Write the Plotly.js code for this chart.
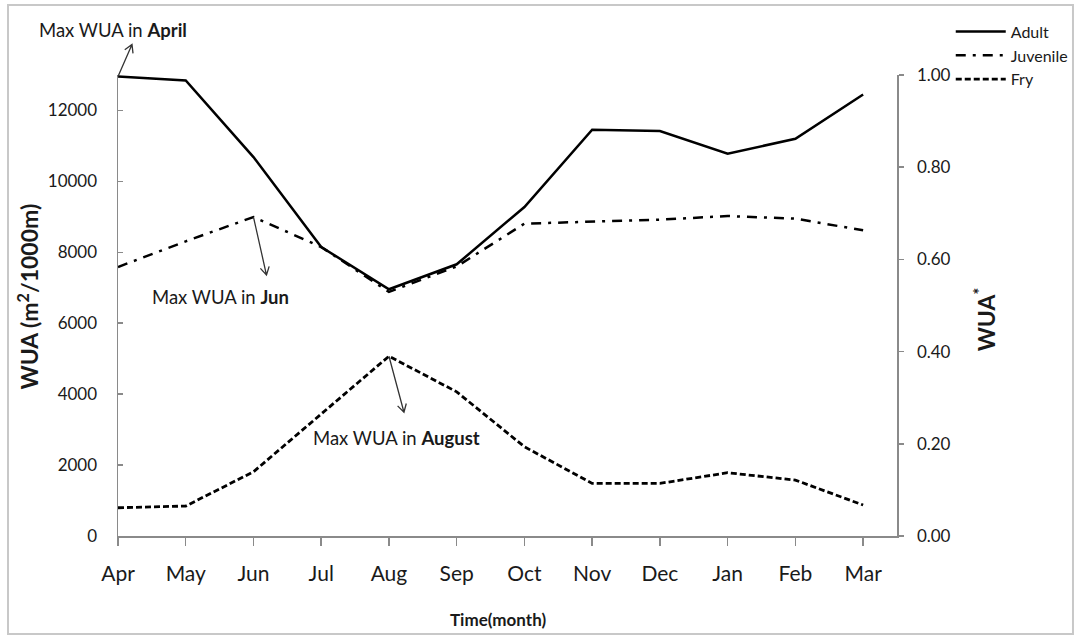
<!DOCTYPE html>
<html>
<head>
<meta charset="utf-8">
<script src="https://cdn.plot.ly/plotly-3.0.1.min.js"></script>
<style>html,body{margin:0;padding:0;background:#fff;}#chart{width:1075px;height:637px;}</style>
</head>
<body>
<div id="chart"></div>
<script>
const months = ["Apr","May","Jun","Jul","Aug","Sep","Oct","Nov","Dec","Jan","Feb","Mar"];
const adult = [12958, 12845, 10685, 8150, 6958, 7662, 9277, 11457, 11418, 10780, 11203, 12451];
const juvenile = [7586, 8310, 8995, 8150, 6882, 7600, 8808, 8874, 8921, 9023, 8949, 8620];
const fry = [797, 845, 1811, 3428, 5070, 4065, 2516, 1484, 1484, 1784, 1577, 873];
const leftTicks = [0, 2000, 4000, 6000, 8000, 10000, 12000];
const rightTicks = [0, 0.2, 0.4, 0.6, 0.8, 1.0];

const FONT = "Lato, 'Open Sans', sans-serif";
const TXT = "#1a1a1a";
const AX = "#8a8a8a";
const X_RANGE = [0, 11.5];
const Y_RANGE = [0, 13000];

const traces = [
  {x: months, y: adult, name: "Adult", type: "scatter", mode: "lines",
   line: {color: "#000", width: 2.5}},
  {x: months, y: juvenile, name: "Juvenile", type: "scatter", mode: "lines",
   line: {color: "#000", width: 2.5, dash: "10px,7px,3px,7px"}},
  {x: months, y: fry, name: "Fry", type: "scatter", mode: "lines",
   line: {color: "#000", width: 2.8, dash: "6px,3px"}},
  {x: [], y: [], yaxis: "y2", type: "scatter", mode: "lines", showlegend: false, hoverinfo: "skip"}
];

// open-chevron arrow anchored at a point; dx/dy are pixel offsets (y up)
function arrowShape(xref, yref, xv, yv, dx, dy) {
  const L = Math.hypot(dx, dy), ux = dx / L, uy = dy / L;
  const h = 9, a = Math.PI / 6;
  const rot = (x, y, t) => [x * Math.cos(t) - y * Math.sin(t), x * Math.sin(t) + y * Math.cos(t)];
  const b1 = rot(-ux * h, -uy * h, a), b2 = rot(-ux * h, -uy * h, -a);
  const path = `M0,0 L${dx},${dy} M${dx + b1[0]},${dy + b1[1]} L${dx},${dy} L${dx + b2[0]},${dy + b2[1]}`;
  return {type: "path", xref: xref, yref: yref, xsizemode: "pixel", ysizemode: "pixel",
          xanchor: xv, yanchor: yv, path: path, line: {color: "#333", width: 1.3}, layer: "above"};
}

// April point expressed in paper units (arrow leaves the plot area, so it must not be clipped)
const aprPaperX = (months.indexOf("Apr") - X_RANGE[0]) / (X_RANGE[1] - X_RANGE[0]);
const aprPaperY = (adult[0] - Y_RANGE[0]) / (Y_RANGE[1] - Y_RANGE[0]);

const layout = {
  width: 1075, height: 637,
  margin: {l: 118, r: 178, t: 75, b: 101, autoexpand: false},
  paper_bgcolor: "#fff", plot_bgcolor: "#fff",
  font: {family: FONT, color: TXT, size: 17},
  showlegend: true,
  legend: {x: 1.069, y: 1.131, xanchor: "left", yanchor: "top",
    font: {family: FONT, size: 16, color: TXT}, itemwidth: 50, bgcolor: "rgba(0,0,0,0)"},
  xaxis: {
    type: "category", range: X_RANGE,
    showline: true, linecolor: AX, linewidth: 1.5,
    ticks: "outside", ticklen: 8, tickcolor: AX, tickwidth: 1.5,
    showgrid: false, zeroline: false,
    tickfont: {family: FONT, size: 21, color: TXT},
    ticklabelstandoff: 10
  },
  yaxis: {
    range: Y_RANGE, tickvals: leftTicks, ticktext: leftTicks.map(String),
    showline: true, linecolor: AX, linewidth: 1.5,
    ticks: "inside", ticklen: 5, tickcolor: AX, tickwidth: 1.5,
    showgrid: false, zeroline: false,
    tickfont: {family: FONT, size: 17, color: TXT},
    ticklabelstandoff: 16
  },
  yaxis2: {
    overlaying: "y", side: "right", range: [0, 1],
    tickvals: rightTicks, ticktext: rightTicks.map(v => v.toFixed(2)),
    showline: true, linecolor: AX, linewidth: 1.5,
    ticks: "outside", ticklen: 5, tickcolor: AX, tickwidth: 1.5,
    showgrid: false, zeroline: false,
    tickfont: {family: FONT, size: 17, color: TXT},
    ticklabelstandoff: 10
  },
  shapes: [
    {type: "rect", xref: "paper", yref: "paper",
     x0: -0.1412, x1: 1.2259, y0: -0.2126, y1: 1.1518,
     line: {color: "#c8c8c8", width: 2}, layer: "below"},
    arrowShape("paper", "paper", aprPaperX, aprPaperY, 14, 32),
    arrowShape("x", "y", months[2], juvenile[2], 13, -58),
    arrowShape("x", "y", months[4], fry[4], 15, -56)
  ],
  annotations: [
    {xref: "paper", yref: "paper", x: -0.0064, y: 1.0976, xanchor: "center", yanchor: "middle", showarrow: false,
     text: "Max WUA in <b>April</b>", font: {family: FONT, size: 18.5, color: TXT}},
    {xref: "paper", yref: "paper", x: 0.1322, y: 0.5184, xanchor: "center", yanchor: "middle", showarrow: false,
     text: "Max WUA in <b>Jun</b>", font: {family: FONT, size: 18.5, color: TXT}},
    {xref: "paper", yref: "paper", x: 0.3569, y: 0.2126, xanchor: "center", yanchor: "middle", showarrow: false,
     text: "Max WUA in <b>August</b>", font: {family: FONT, size: 18.5, color: TXT}},
    {xref: "paper", yref: "paper", x: -0.1155, y: 0.5195, xanchor: "center", yanchor: "middle", showarrow: false,
     textangle: -90, text: "<b>WUA (m<sup>2</sup>/1000m)</b>", font: {family: FONT, size: 23, color: TXT}},
    {xref: "paper", yref: "paper", x: 1.113, y: 0.47, xanchor: "center", yanchor: "middle", showarrow: false,
     textangle: -90, text: "<b>WUA<sup>*</sup></b>", font: {family: FONT, size: 23, color: TXT}},
    {xref: "paper", yref: "paper", x: 0.4878, y: -0.1822, xanchor: "center", yanchor: "middle", showarrow: false,
     text: "<b>Time(month)</b>", font: {family: FONT, size: 17, color: TXT}}
  ]
};

Plotly.newPlot("chart", traces, layout, {displayModeBar: false, staticPlot: true});
</script>
</body>
</html>
